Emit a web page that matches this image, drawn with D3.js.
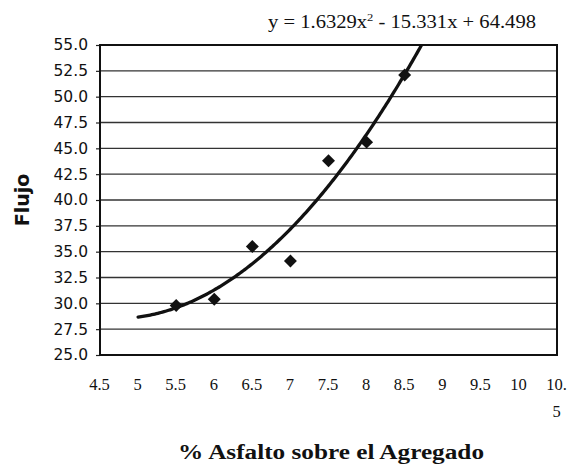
<!DOCTYPE html>
<html>
<head>
<meta charset="utf-8">
<script src="https://cdn.jsdelivr.net/npm/d3@7"></script>
<style>
  body { margin: 0; background: #fff; }
  svg { display: block; }
</style>
</head>
<body>
<div id="chart"></div>
<script>
// data
const xValues = [5.5, 6, 6.5, 7, 7.5, 8, 8.5];
const yValues = [29.8, 30.4, 35.5, 34.1, 43.8, 45.6, 52.1];

// polynomial trend line shown on the chart: a*x^2 + b*x + c
const trendCoef = [1.6329, -15.331, 64.498];
const trendStart = 5;

const yTicks = [25, 27.5, 30, 32.5, 35, 37.5, 40, 42.5, 45, 47.5, 50, 52.5, 55];
const xTicks = [4.5, 5, 5.5, 6, 6.5, 7, 7.5, 8, 8.5, 9, 9.5, 10, 10.5];
const xTickLabels = ["4.5", "5", "5.5", "6", "6.5", "7", "7.5", "8", "8.5", "9", "9.5", "10", "10.\n5"];

const width = 580, height = 474;
const margin = { top: 45, right: 23, bottom: 119, left: 100 };

const svg = d3.select("#chart").append("svg")
    .attr("width", width)
    .attr("height", height);

const x = d3.scaleLinear()
    .domain([4.5, 10.5])
    .range([margin.left, width - margin.right]);

const y = d3.scaleLinear()
    .domain([25, 55])
    .range([height - margin.bottom, margin.top]);

// gridlines
svg.append("g")
    .selectAll("line")
    .data(yTicks)
    .join("line")
    .attr("x1", x(4.5))
    .attr("x2", x(10.5))
    .attr("y1", d => y(d))
    .attr("y2", d => y(d))
    .attr("stroke", "#333")
    .attr("stroke-width", 1.3);

// y axis
const yAxis = svg.append("g")
    .attr("transform", `translate(${margin.left},0)`)
    .call(d3.axisLeft(y).tickValues(yTicks).tickFormat(d3.format(".1f")).tickSize(4).tickPadding(8));
yAxis.select(".domain").remove();
yAxis.selectAll("line").attr("stroke", "#222").attr("stroke-width", 1.2);
yAxis.selectAll("text")
    .style("font-family", "'DejaVu Sans', sans-serif")
    .style("font-size", "15.5px")
    .attr("fill", "#111");

// x axis, labels only
const xAxis = svg.append("g")
    .attr("transform", `translate(0,${y(25)})`)
    .call(d3.axisBottom(x).tickValues(xTicks).tickSize(0).tickPadding(0).tickFormat(""));
xAxis.select(".domain").remove();
xAxis.selectAll(".tick text").remove();
xAxis.selectAll(".tick")
    .append("text")
    .attr("text-anchor", "middle")
    .attr("fill", "#111")
    .style("font-family", "'Liberation Serif', serif")
    .style("font-size", "16.5px")
    .selectAll("tspan")
    .data((d, i) => xTickLabels[i].split("\n"))
    .join("tspan")
    .attr("x", -1)
    .attr("y", (d, i) => 35 + i * 27)
    .text(d => d);

// plot border
svg.append("rect")
    .attr("x", x(4.5))
    .attr("y", y(55))
    .attr("width", x(10.5) - x(4.5))
    .attr("height", y(25) - y(55))
    .attr("fill", "none")
    .attr("stroke", "#111")
    .attr("stroke-width", 2);

// trend line (clipped to plot)
svg.append("clipPath")
    .attr("id", "plot-clip")
    .append("rect")
    .attr("x", x(4.5))
    .attr("y", y(55))
    .attr("width", x(10.5) - x(4.5))
    .attr("height", y(25) - y(55));

const trendX = d3.range(trendStart, 9.0001, 0.02);
const trendFn = v => trendCoef[0] * v * v + trendCoef[1] * v + trendCoef[2];

svg.append("path")
    .datum(trendX)
    .attr("clip-path", "url(#plot-clip)")
    .attr("fill", "none")
    .attr("stroke", "#111")
    .attr("stroke-width", 3.3)
    .attr("stroke-linecap", "round")
    .attr("d", d3.line().x(d => x(d)).y(d => y(trendFn(d))));

// markers
const diamond = d3.symbol(d3.symbolSquare, 84);
svg.append("g")
    .selectAll("path")
    .data(xValues.map((v, i) => [v, yValues[i]]))
    .join("path")
    .attr("d", diamond)
    .attr("transform", d => `translate(${x(d[0])},${y(d[1])}) rotate(45)`)
    .attr("fill", "#111");

// trend equation
const eq = svg.append("text")
    .attr("x", 268)
    .attr("y", 28)
    .attr("fill", "#111")
    .attr("textLength", 268)
    .attr("lengthAdjust", "spacingAndGlyphs")
    .style("font-family", "'Liberation Serif', serif")
    .style("font-size", "18px");
eq.append("tspan").text("y = 1.6329x");
eq.append("tspan").attr("dy", -7).style("font-size", "11px").text("2");
eq.append("tspan").attr("dy", 7).text(" - 15.331x + 64.498");

// axis titles
svg.append("text")
    .attr("transform", "translate(29,200) rotate(-90)")
    .attr("text-anchor", "middle")
    .attr("fill", "#111")
    .style("font-family", "'DejaVu Sans', sans-serif")
    .style("font-weight", "bold")
    .style("font-size", "19px")
    .text("Flujo");

svg.append("text")
    .attr("x", 331)
    .attr("y", 459)
    .attr("text-anchor", "middle")
    .attr("fill", "#111")
    .attr("textLength", 306)
    .attr("lengthAdjust", "spacingAndGlyphs")
    .style("font-family", "'Liberation Serif', serif")
    .style("font-weight", "bold")
    .style("font-size", "20px")
    .text("% Asfalto sobre el Agregado");
</script>
</body>
</html>
